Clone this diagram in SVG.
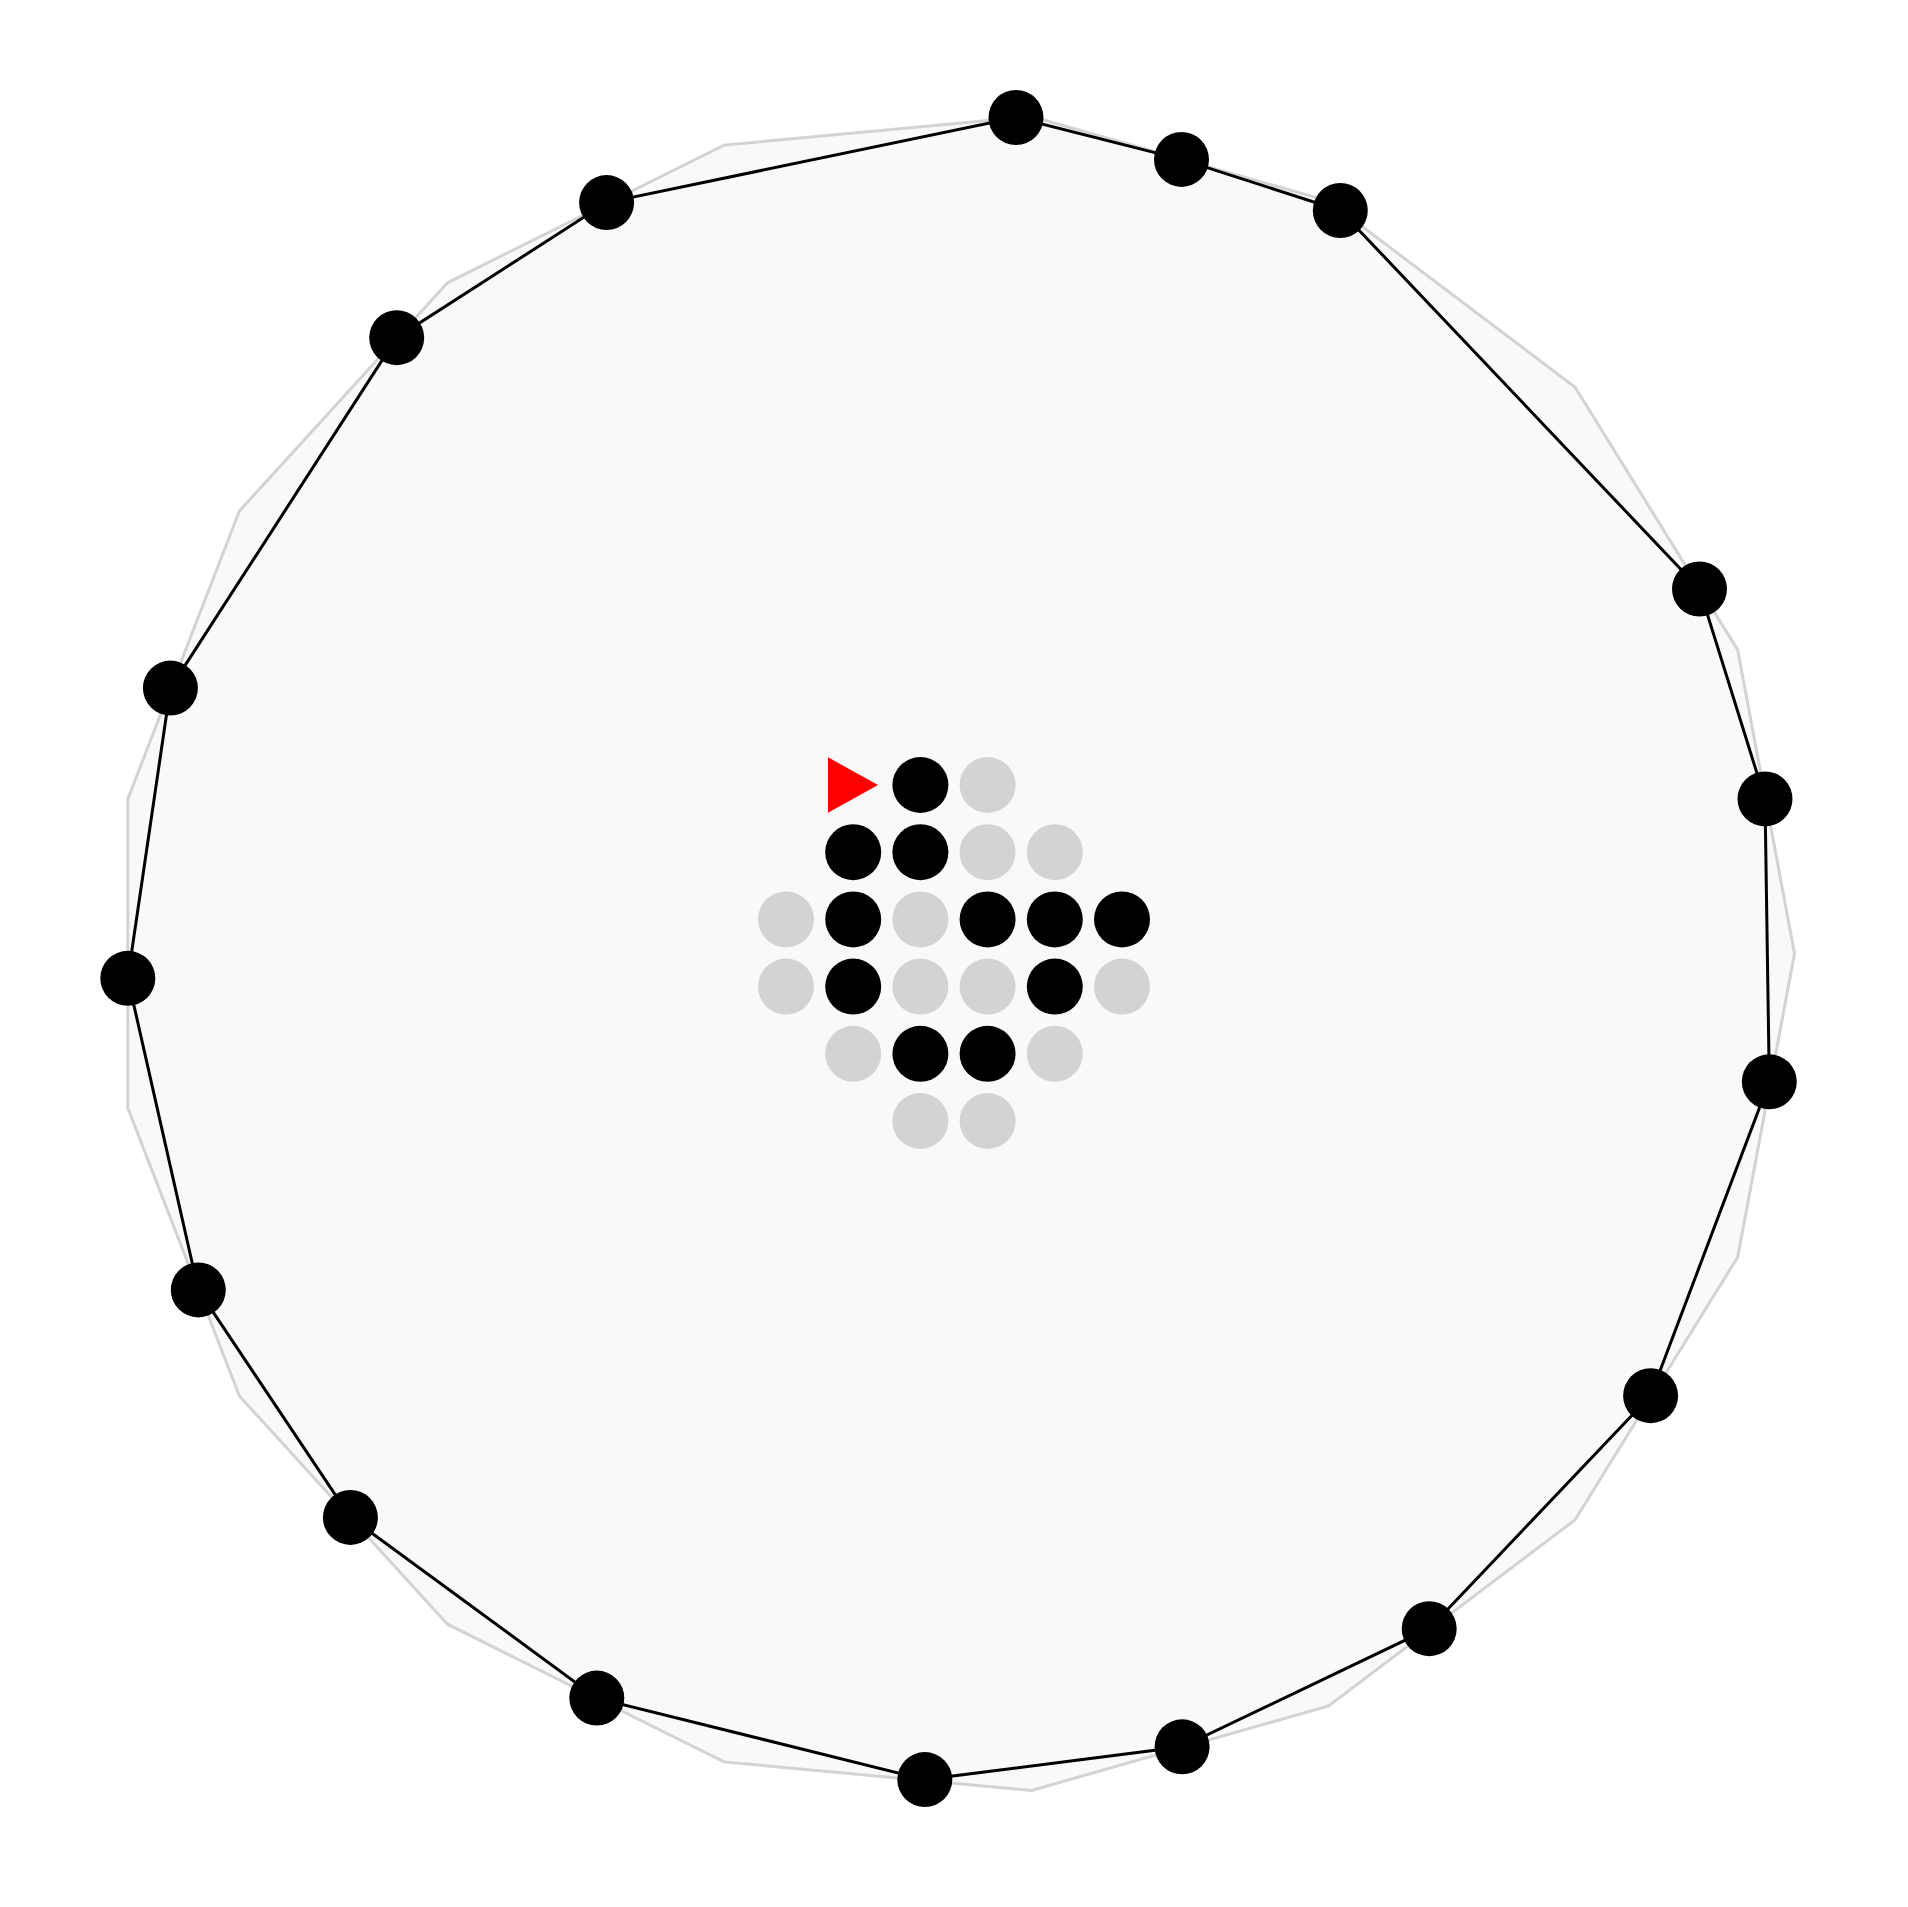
<svg xmlns="http://www.w3.org/2000/svg" width="1908" height="1907" viewBox="0 0 1908 1907">
<style>
.hull{fill:#f9f9f9;stroke:#d3d3d3;stroke-width:3;stroke-linejoin:miter}
.edge{fill:none;stroke:#000;stroke-width:3;stroke-linejoin:miter}
.node{fill:#000}
.on{fill:#000}
.off{fill:#d3d3d3}
.mark{fill:#ff0000}
</style>
<rect width="1908" height="1907" fill="#ffffff"/>
<polygon id="hull" class="hull" points="1794.5,953.5 1737.7,1257.1 1575.1,1519.8 1328.6,1705.9 1031.6,1790.4 724.0,1761.9 447.5,1624.2 239.4,1396.0 127.8,1107.9 127.8,799.1 239.4,511.0 447.5,282.8 724.0,145.1 1031.6,116.6 1328.6,201.1 1575.1,387.2 1737.7,649.9"/>
<g id="connectors">
<polygon class="edge" points="1016,117.5 1181.5,159.4 1340.3,210.5 1699.5,589 1765,798.9 1769.3,1081.8 1650.6,1395.7 1429.2,1628.7 1182.1,1746.8 924.8,1779.6 596.8,1698.1 350.4,1517.4 198.3,1289.9 127.8,978.3 170.4,688.1 396.7,337.7 606.6,202.6"/>
</g>
<g id="n1"><circle class="node" cx="1016" cy="117.5" r="27.5"/></g>
<g id="n2"><circle class="node" cx="1181.5" cy="159.4" r="27.5"/></g>
<g id="n3"><circle class="node" cx="1340.3" cy="210.5" r="27.5"/></g>
<g id="n4"><circle class="node" cx="1699.5" cy="589" r="27.5"/></g>
<g id="n5"><circle class="node" cx="1765" cy="798.9" r="27.5"/></g>
<g id="n6"><circle class="node" cx="1769.3" cy="1081.8" r="27.5"/></g>
<g id="n7"><circle class="node" cx="1650.6" cy="1395.7" r="27.5"/></g>
<g id="n8"><circle class="node" cx="1429.2" cy="1628.7" r="27.5"/></g>
<g id="n9"><circle class="node" cx="1182.1" cy="1746.8" r="27.5"/></g>
<g id="n10"><circle class="node" cx="924.8" cy="1779.6" r="27.5"/></g>
<g id="n11"><circle class="node" cx="596.8" cy="1698.1" r="27.5"/></g>
<g id="n12"><circle class="node" cx="350.4" cy="1517.4" r="27.5"/></g>
<g id="n13"><circle class="node" cx="198.3" cy="1289.9" r="27.5"/></g>
<g id="n14"><circle class="node" cx="127.8" cy="978.3" r="27.5"/></g>
<g id="n15"><circle class="node" cx="170.4" cy="688.1" r="27.5"/></g>
<g id="n16"><circle class="node" cx="396.7" cy="337.7" r="27.5"/></g>
<g id="n17"><circle class="node" cx="606.6" cy="202.6" r="27.5"/></g>
<g id="grid">
<polygon class="mark" points="828,757.3 878,785 828,812.7"/>
<circle class="on" cx="920.4" cy="785" r="28"/>
<circle class="off" cx="987.6" cy="785" r="28"/>
<circle class="on" cx="853.2" cy="852.2" r="28"/>
<circle class="on" cx="920.4" cy="852.2" r="28"/>
<circle class="off" cx="987.6" cy="852.2" r="28"/>
<circle class="off" cx="1054.8" cy="852.2" r="28"/>
<circle class="off" cx="786" cy="919.4" r="28"/>
<circle class="on" cx="853.2" cy="919.4" r="28"/>
<circle class="off" cx="920.4" cy="919.4" r="28"/>
<circle class="on" cx="987.6" cy="919.4" r="28"/>
<circle class="on" cx="1054.8" cy="919.4" r="28"/>
<circle class="on" cx="1122" cy="919.4" r="28"/>
<circle class="off" cx="786" cy="986.6" r="28"/>
<circle class="on" cx="853.2" cy="986.6" r="28"/>
<circle class="off" cx="920.4" cy="986.6" r="28"/>
<circle class="off" cx="987.6" cy="986.6" r="28"/>
<circle class="on" cx="1054.8" cy="986.6" r="28"/>
<circle class="off" cx="1122" cy="986.6" r="28"/>
<circle class="off" cx="853.2" cy="1053.8" r="28"/>
<circle class="on" cx="920.4" cy="1053.8" r="28"/>
<circle class="on" cx="987.6" cy="1053.8" r="28"/>
<circle class="off" cx="1054.8" cy="1053.8" r="28"/>
<circle class="off" cx="920.4" cy="1121" r="28"/>
<circle class="off" cx="987.6" cy="1121" r="28"/>
</g>
</svg>
